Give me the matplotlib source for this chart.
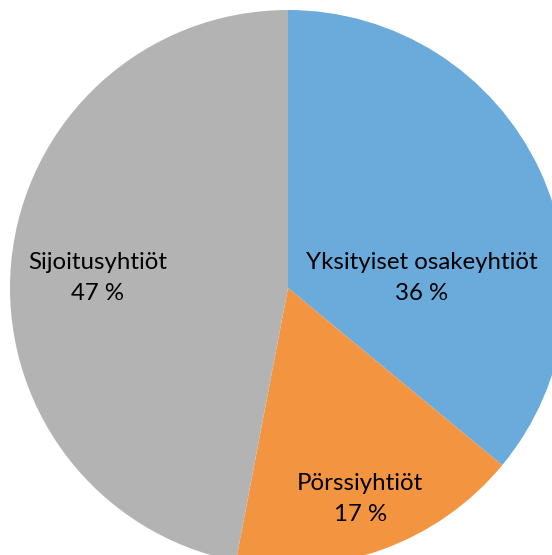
import matplotlib
matplotlib.use("Agg")
import matplotlib.pyplot as plt

categories = ["Yksityiset osakeyhtiöt", "Pörssiyhtiöt", "Sijoitusyhtiöt"]
values = [36, 17, 47]
colors = ["#6AABDC", "#F39441", "#B3B3B3"]
# label centres (data units, pie radius = 1)
label_pos = [(0.482, 0.035), (0.26, -0.76), (-0.685, 0.035)]

plt.rcParams['font.family'] = ['Lato', 'DejaVu Sans']

fig = plt.figure(figsize=(5.52, 5.55), dpi=100)
ax = fig.add_axes([0, 0, 1, 1])
ax.pie(values, colors=colors, startangle=90, counterclock=False,
       radius=1.0, center=(0, 0), wedgeprops=dict(linewidth=0))
R = 278.0
cx, cy = 288.0, 288.0
ax.set_xlim(-cx / R, (552 - cx) / R)
ax.set_ylim(-(555 - cy) / R, cy / R)
ax.set_aspect('auto')
ax.axis('off')

for cat, v, (x, y) in zip(categories, values, label_pos):
    ax.text(x, y, f"{cat}\n{v} %", ha='center', va='center', fontsize=17.3,
            color='#000000', linespacing=1.6)

fig.savefig("out.png", dpi=100)
